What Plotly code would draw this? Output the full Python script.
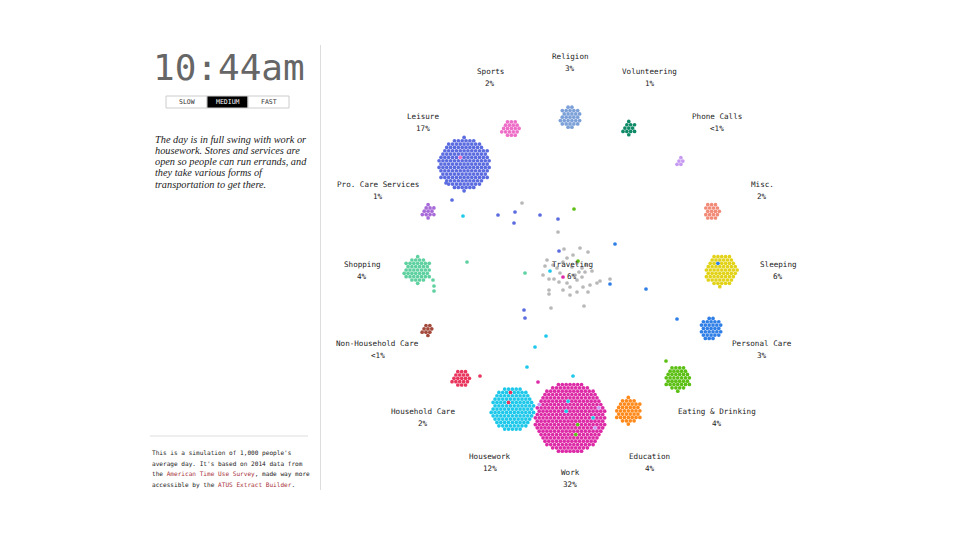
import math
import plotly.graph_objects as go

# ---------------- data ----------------
activities = ["Religion", "Volunteering", "Phone Calls", "Misc.", "Sleeping",
              "Personal Care", "Eating & Drinking", "Education", "Work",
              "Housework", "Household Care", "Non-Household Care", "Shopping",
              "Pro. Care Services", "Leisure", "Sports"]
shares = ["3%", "1%", "<1%", "2%", "6%", "3%", "4%", "4%", "32%", "12%",
          "2%", "<1%", "4%", "1%", "17%", "2%"]
people = [30, 12, 5, 18, 64, 32, 40, 42, 312, 120, 20, 9, 44, 12, 168, 20]
colors = ["#7ca0d8", "#0f8a68", "#c79af2", "#f28a78", "#e2d319", "#2f7fe6",
          "#5cc014", "#ff8a1c", "#dd2aa6", "#1ec8ea", "#e8365e", "#a44a3c",
          "#5fd1a0", "#a86ad8", "#5b6be0", "#ee6fc8"]

travel_label = "Traveling"
travel_share = "6%"
travel_color = "#b8b8b8"
# people currently traveling (offset from ring centre, px-like units)
travel_dx = [-48, -12, -19, 14, -23, -17, -7, 2, 7, 12, 16, 18, 10, 3, -3, -25,
             -27, -21, -16, -11, -3, 0, 7, 12, 13, 20, 27, 30, 18, 7, 0, -21,
             -21, -7, 5, 9, -10, -13, 15, 40, -6, 22]
travel_dy = [67, 38, -38, -36, 10, 5, 8, 3, 7, 2, 5, 18, 22, 15, 12, 4,
             -5, -9, -9, -12, -13, -17, -10, -7, -17, -15, -13, -11, -22, -22, -25, -20,
             -24, -20, -5, -2, -3, 2, -2, -9, 21, -1]

# people moving toward an activity
moving_activity = ["Leisure"] * 10 + ["Personal Care"] * 4 + ["Eating & Drinking"] * 3 + \
                  ["Shopping"] * 5 + ["Housework"] * 6 + ["Household Care"] + ["Work"] * 2
moving_dx = [-118, -72, -55, -30, -56, -12, -11, -46, -45, -124,
             45, 40, 76, 107,
             4, 8, 96,
             -103, -45, -137, -136, -136,
             -107, -20, -24, -35, -43, 3,
             -90,
             -32, -7]
moving_dy = [70, 55, 58, 55, 47, 51, 19, -40, -48, 87,
             26, -14, -19, -49,
             61, 9, -91,
             8, -3, -10, -16, -21,
             54, -1, -66, -77, -97, -106,
             -106,
             -112, -7]

# people of one activity sitting inside another cluster (host, guest, count)
guests = [("Work", "Housework", 3), ("Work", "Phone Calls", 3),
          ("Work", "Eating & Drinking", 2), ("Housework", "Household Care", 2),
          ("Sleeping", "Personal Care", 1), ("Leisure", "Sports", 1)]

clock = "10:44am"
speeds = ["SLOW", "MEDIUM", "FAST"]
active_speed = "MEDIUM"
blurb = ["The day is in full swing with work or",
         "housework. Stores and services are",
         "open so people can run errands, and",
         "they take various forms of",
         "transportation to get there."]
footer = ["This is a simulation of 1,000 people's",
          "average day. It's based on 2014 data from",
          "the <span style='color:#a8323a'>American Time Use Survey</span>, made way more",
          "accessible by the <span style='color:#a8323a'>ATUS Extract Builder</span>."]

# ---------------- layout helpers ----------------
W, H = 960, 540
CX, CY = 570, 270          # ring centre in page pixels
LABEL_R = 208
CLUSTER_R = 155
SPACING = 3.85
DOT = 3.7
MONO = "DejaVu Sans Mono"


def pack(n, s):
    pts = []
    m = int(math.sqrt(n)) + 4
    for j in range(-m, m + 1):
        for i in range(-m, m + 1):
            x = (i + 0.5 * (j % 2)) * s
            y = j * s * math.sqrt(3) / 2
            pts.append((round(x * x + y * y, 6), math.atan2(y, x), x, y))
    pts.sort()
    return [(p[2], p[3]) for p in pts[:n]]


color_of = dict(zip(activities, colors))
n_act = len(activities)

fig = go.Figure()

xs, ys, cs = [], [], []
annotations = []
for k, (act, share, n, col) in enumerate(zip(activities, shares, people, colors)):
    ang = math.radians(k * 360.0 / n_act)
    radius = SPACING * math.sqrt(n * 0.866 / math.pi)
    rc = CLUSTER_R - 0.2 * radius
    cx, cy = rc * math.sin(ang), rc * math.cos(ang)
    pts = pack(n, SPACING)
    dot_cols = [col] * n
    idx = 0
    for host, guest, cnt in guests:
        if host == act:
            for g in range(cnt):
                pos = (idx * 53 + 17) % n
                dot_cols[pos] = color_of[guest]
                idx += 1
    for (px_, py_), c in zip(pts, dot_cols):
        xs.append(cx + px_)
        ys.append(cy + py_)
        cs.append(c)
    lx, ly = LABEL_R * math.sin(ang), LABEL_R * math.cos(ang)
    annotations.append(dict(x=lx, y=ly + 6, text=act, showarrow=False,
                            font=dict(family=MONO, size=7.6, color="#222"),
                            xanchor="center", yanchor="middle"))
    annotations.append(dict(x=lx, y=ly - 6, text=share, showarrow=False,
                            font=dict(family=MONO, size=7.6, color="#222"),
                            xanchor="center", yanchor="middle"))

fig.add_trace(go.Scatter(x=xs, y=ys, mode="markers", hoverinfo="skip",
                         marker=dict(size=DOT, color=cs, line=dict(width=0))))
fig.add_trace(go.Scatter(x=travel_dx, y=travel_dy, mode="markers", hoverinfo="skip",
                         marker=dict(size=DOT, color=travel_color, line=dict(width=0))))
fig.add_trace(go.Scatter(x=moving_dx, y=moving_dy, mode="markers", hoverinfo="skip",
                         marker=dict(size=DOT, color=[color_of[a] for a in moving_activity],
                                     line=dict(width=0))))

annotations.append(dict(x=2, y=6, text=travel_label, showarrow=False,
                        font=dict(family=MONO, size=7.6, color="#222")))
annotations.append(dict(x=2, y=-6, text=travel_share, showarrow=False,
                        font=dict(family=MONO, size=7.6, color="#222")))


def px(x):
    return x / W


def py(y):
    return 1 - y / H


# clock
annotations.append(dict(xref="paper", yref="paper", x=px(229), y=py(67), text=clock,
                        showarrow=False, xanchor="center", yanchor="middle",
                        font=dict(family=MONO, size=36, color="#666")))

shapes = []
# speed buttons
bx0, bw, by0, by1 = 166, 41, 96, 108
for i, sp in enumerate(speeds):
    x0 = bx0 + i * bw
    active = sp == active_speed
    shapes.append(dict(type="rect", xref="paper", yref="paper",
                       x0=px(x0), x1=px(x0 + bw), y0=py(by1), y1=py(by0),
                       line=dict(color="#cccccc", width=1),
                       fillcolor="#000" if active else "#fff"))
    annotations.append(dict(xref="paper", yref="paper", x=px(x0 + bw / 2), y=py((by0 + by1) / 2),
                            text=sp, showarrow=False, xanchor="center", yanchor="middle",
                            font=dict(family=MONO, size=6.5, color="#fff" if active else "#333")))

# blurb
for i, line in enumerate(blurb):
    annotations.append(dict(xref="paper", yref="paper", x=px(153), y=py(139 + 11.3 * i),
                            text="<i>" + line + "</i>", showarrow=False,
                            xanchor="left", yanchor="middle",
                            font=dict(family="Liberation Serif", size=10.3, color="#222")))

# footer
for i, line in enumerate(footer):
    annotations.append(dict(xref="paper", yref="paper", x=px(150), y=py(453 + 10.5 * i),
                            text=line, showarrow=False, xanchor="left", yanchor="middle",
                            font=dict(family=MONO, size=6.1, color="#222")))

# separators
shapes.append(dict(type="line", xref="paper", yref="paper", x0=px(320.5), x1=px(320.5),
                   y0=py(45), y1=py(490), line=dict(color="#dddddd", width=1)))
shapes.append(dict(type="line", xref="paper", yref="paper", x0=px(150), x1=px(308),
                   y0=py(436), y1=py(436), line=dict(color="#dddddd", width=1)))

fig.update_layout(
    width=W, height=H, margin=dict(l=0, r=0, t=0, b=0),
    paper_bgcolor="white", plot_bgcolor="white", showlegend=False,
    xaxis=dict(range=[-CX, W - CX], visible=False, fixedrange=True),
    yaxis=dict(range=[-(H - CY), CY], visible=False, fixedrange=True),
    annotations=annotations, shapes=shapes,
)

fig.write_html("out.html")
